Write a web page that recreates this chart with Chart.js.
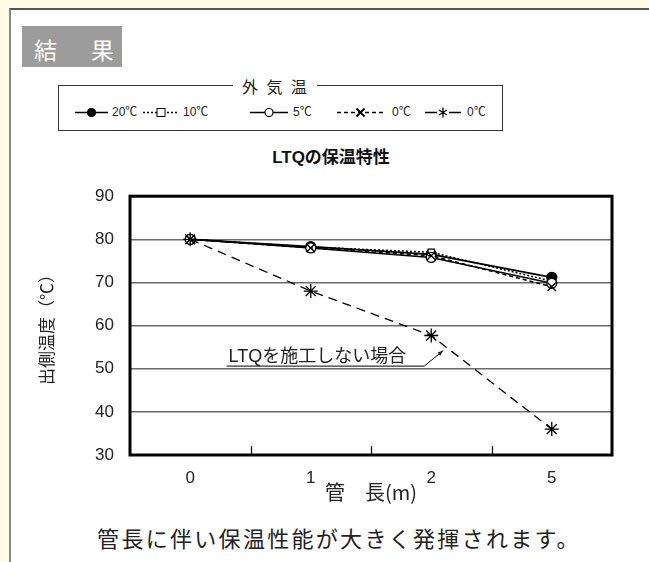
<!DOCTYPE html>
<html>
<head>
<meta charset="utf-8">
<script src="https://cdn.jsdelivr.net/npm/chart.js@4.4.1/dist/chart.umd.min.js"></script>
<style>
    html, body { margin: 0; padding: 0; }
    body {
        width: 649px; height: 562px; overflow: hidden; position: relative;
        background: #fffbe6;
        font-family: "Liberation Sans", "Noto Sans CJK JP", sans-serif;
        color: #222;
    }
    #panel {
        position: absolute; left: 9px; top: 8px; width: 660px; height: 570px;
        background: #fff;
        border-left: 2px solid #888; border-top: 2px solid #555;
    }
    .abs { position: absolute; white-space: nowrap; }
    #kekka { left: 22px; top: 26px; width: 100px; height: 41px; background: #9c9c9c; }
    #kekka span { position: absolute; top: 6px; color: #fff; font-size: 23px; font-family: "Noto Sans CJK JP"; }
    #legend { left: 58px; top: 85px; width: 443px; height: 44px; border: 1px solid #333; }
    #legend-title {
        left: 233px; top: 76px; background: #fff; padding: 0 8px 0 9px;
        font-size: 16px; letter-spacing: 2.4px; line-height: 20px; font-family: "Noto Sans CJK JP";
    }
    .leg-item { top: 104px; height: 16px; font-size: 12px; line-height: 16px; color: #222; }
    .leg-item svg { vertical-align: top; }
    #title { left: 200px; width: 262px; top: 146px; text-align: center; font-size: 17px; font-weight: bold; line-height: 24px; color: #111; }
    #chart-wrap { left: 0; top: 170px; width: 649px; height: 350px; }
    #caption {
        left: 0; width: 678px; top: 522px; text-align: center;
        font-size: 22px; letter-spacing: 2.3px; line-height: 30px; font-family: "Noto Sans CJK JP";
    }
</style>
</head>
<body>
<div id="panel"></div>
<div id="kekka" class="abs"><span style="left:12px">結</span><span style="left:69px">果</span></div>
<div id="legend" class="abs"></div>
<div id="legend-title" class="abs">外 気 温</div>
<div id="legend-items"></div>
<div id="title" class="abs">LTQの保温特性</div>
<div id="chart-wrap" class="abs"><canvas id="chart" width="649" height="350"></canvas></div>
<div id="caption" class="abs">管長に伴い保温性能が大きく発揮されます。</div>

<script>
// データ
const categories = ['0', '1', '2', '5'];          // 管長 (m)
const seriesNames = ['20℃', '10℃', '5℃', '0℃', '0℃'];
const temp20 = [80, 78.3, 76.5, 71.2];
const temp10 = [80, 78.2, 77.0, 70.3];
const temp5 = [80, 78.0, 75.8, 69.8];
const temp0 = [80, 78.0, 76.2, 69.0];
const temp0NoLtq = [80, 68.0, 57.7, 36.0];       // LTQを施工しない場合
const yMin = 30, yMax = 90, yStep = 10;

const annotationText = 'LTQを施工しない場合';

// 見た目
const styles = [
    { dash: [], legendDash: [], point: 'circle', fill: '#000', radius: 5, width: 1.8 },
    { dash: [2, 2], legendDash: [2, 2], point: 'rect', fill: '#fff', radius: 4.5, width: 1.5 },
    { dash: [], legendDash: [], point: 'circle', fill: '#fff', radius: 5, width: 1.5 },
    { dash: [4, 3], legendDash: [4, 3], point: 'crossRot', fill: '#fff', radius: 6, width: 1.5 },
    { dash: [9, 6], legendDash: [], point: 'star', fill: '#fff', radius: 7, width: 1.3 }
];
const seriesData = [temp20, temp10, temp5, temp0, temp0NoLtq];

// 凡例 (HTML)
const legendPos = [
    { sym: 75, w: 33, text: 112 },
    { sym: 143, w: 36, text: 183 },
    { sym: 250, w: 38, text: 293 },
    { sym: 337, w: 47, text: 392 },
    { sym: 425, w: 36, text: 467 }
];

function markerSvg(st, cx, cy) {
    const r = 4;
    if (st.point === 'circle') return `<circle cx="${cx}" cy="${cy}" r="${r}" fill="${st.fill}" stroke="#000" stroke-width="1.2"/>`;
    if (st.point === 'rect') return `<rect x="${cx - r}" y="${cy - r}" width="${2 * r}" height="${2 * r}" fill="#fff" stroke="#000" stroke-width="1"/>`;
    if (st.point === 'crossRot') return `<path d="M${cx - r} ${cy - r}L${cx + r} ${cy + r}M${cx + r} ${cy - r}L${cx - r} ${cy + r}" stroke="#000" stroke-width="1.8"/>`;
    return `<rect x="${cx - 6}" y="${cy - 6}" width="12" height="12" fill="#fff"/><path d="M${cx} ${cy - r - 1}V${cy + r + 1}M${cx - r} ${cy - 2.5}L${cx + r} ${cy + 2.5}M${cx + r} ${cy - 2.5}L${cx - r} ${cy + 2.5}" stroke="#000" stroke-width="1.3"/>`;
}

const legendBox = document.getElementById('legend-items');
seriesNames.forEach((name, i) => {
    const st = styles[i];
    const p = legendPos[i];
    const dash = st.legendDash.length ? `stroke-dasharray="${st.legendDash.join(' ')}"` : '';
    const sym = document.createElement('div');
    sym.className = 'abs leg-item';
    sym.style.left = p.sym + 'px';
    sym.innerHTML = `<svg width="${p.w}" height="16"><line x1="0" y1="8.5" x2="${p.w}" y2="8.5" stroke="#000" stroke-width="${i === 1 ? 1.5 : 1.6}" ${dash}/>${markerSvg(st, p.w / 2, 8.5)}</svg>`;
    legendBox.appendChild(sym);
    const txt = document.createElement('div');
    txt.className = 'abs leg-item';
    txt.style.left = p.text + 'px';
    txt.textContent = name;
    legendBox.appendChild(txt);
});

// 枠線・目盛り・注記
const framePlugin = {
    id: 'frame',
    afterDatasetsDraw(chart) {
        const { ctx, chartArea: a, scales: { x, y } } = chart;
        ctx.save();
        // 内側の目盛り
        ctx.strokeStyle = '#000';
        ctx.lineWidth = 1.2;
        for (let i = 0; i < categories.length - 1; i++) {
            const px = Math.round((x.getPixelForValue(i) + x.getPixelForValue(i + 1)) / 2) + 0.5;
            ctx.beginPath();
            ctx.moveTo(px, a.bottom);
            ctx.lineTo(px, a.bottom - 9);
            ctx.stroke();
        }
        // 枠
        ctx.lineWidth = 3;
        ctx.strokeRect(a.left, a.top, a.right - a.left, a.bottom - a.top);

        // 注記: LTQを施工しない場合
        const tipX = x.getPixelForValue(2) + 12;
        const tipY = y.getPixelForValue(54.2);
        const elbowX = tipX - 19, lineY = tipY + 15;
        ctx.font = '18px "Liberation Sans", "Noto Sans CJK JP"';
        ctx.fillStyle = '#222';
        ctx.textBaseline = 'alphabetic';
        const textW = ctx.measureText(annotationText).width;
        const textX = elbowX - textW - 18;
        ctx.fillText(annotationText, textX, lineY - 4);
        ctx.lineWidth = 1;
        ctx.beginPath();
        ctx.moveTo(textX - 2, lineY + 0.5);
        ctx.lineTo(elbowX, lineY + 0.5);
        ctx.lineTo(tipX, tipY);
        ctx.stroke();
        // 矢印
        const ang = Math.atan2(tipY - lineY, tipX - elbowX);
        ctx.beginPath();
        ctx.moveTo(tipX, tipY);
        ctx.lineTo(tipX - 6 * Math.cos(ang - 0.35), tipY - 6 * Math.sin(ang - 0.35));
        ctx.lineTo(tipX - 6 * Math.cos(ang + 0.35), tipY - 6 * Math.sin(ang + 0.35));
        ctx.closePath();
        ctx.fill();
        ctx.restore();
    }
};

const datasets = seriesData.map((data, i) => ({
    label: seriesNames[i],
    data: data,
    borderColor: '#000',
    borderWidth: styles[i].width,
    borderDash: styles[i].dash,
    pointStyle: styles[i].point,
    pointRadius: styles[i].radius,
    pointBorderWidth: 1.3,
    pointBackgroundColor: styles[i].fill,
    pointBorderColor: '#000',
    tension: 0,
    order: 4 - i
}));

new Chart(document.getElementById('chart'), {
    type: 'line',
    data: { labels: categories, datasets: datasets },
    options: {
        responsive: false,
        animation: false,
        events: [],
        layout: { padding: { top: 17, right: 37, left: 0, bottom: 0 } },
        plugins: { legend: { display: false }, tooltip: { enabled: false } },
        scales: {
            x: {
                offset: true,
                grid: { display: false },
                border: { display: false },
                ticks: { color: '#222', font: { size: 17, family: '"Liberation Sans"' }, padding: 5, maxRotation: 0 },
                title: {
                    display: true, text: '管　長(m)', color: '#222',
                    font: { size: 20, family: '"Noto Sans CJK JP"' },
                    padding: { top: 0, bottom: 16 }
                },
                afterFit: (scale) => { scale.height = 65; }
            },
            y: {
                min: yMin, max: yMax,
                ticks: { stepSize: yStep, color: '#222', font: { size: 17, family: '"Liberation Sans"' }, padding: 16 },
                grid: { color: '#6a6a6a', lineWidth: 1.5, drawTicks: false },
                border: { display: false },
                title: {
                    display: true, text: '出側温度（℃）', color: '#222',
                    font: { size: 17, family: '"Noto Sans CJK JP"' },
                    padding: { top: 36, bottom: 0 }
                },
                afterFit: (scale) => { scale.width = 130; }
            }
        }
    },
    plugins: [framePlugin]
});
</script>
</body>
</html>
